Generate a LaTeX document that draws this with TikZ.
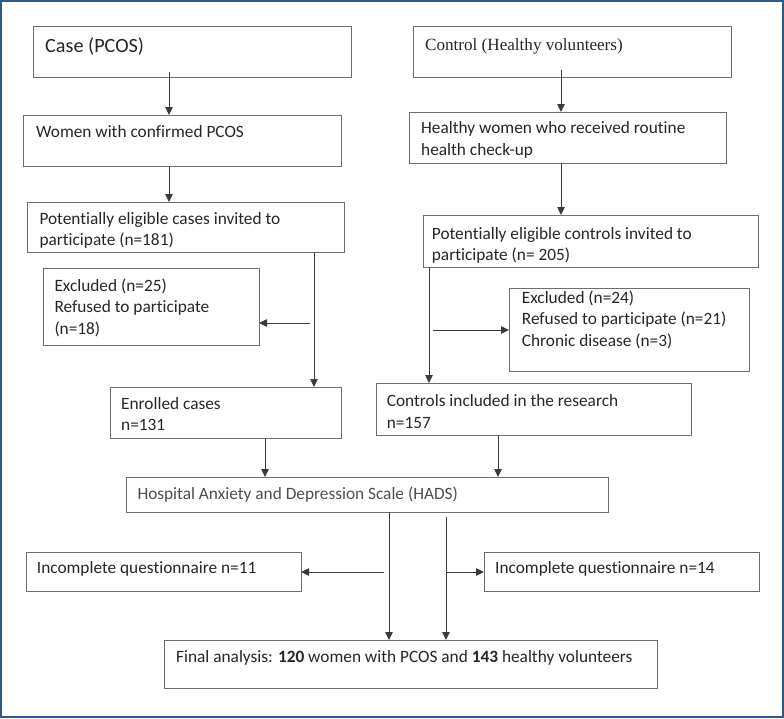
\documentclass[tikz,border=0pt]{standalone}
\usepackage{fontspec}
\setmainfont{Carlito}[Ligatures=NoCommon]
\newfontfamily\timesf{Liberation Serif}
\usetikzlibrary{arrows.meta}
\definecolor{framec}{HTML}{2D5A88}
\definecolor{boxc}{HTML}{6E6E6E}
\definecolor{txtc}{HTML}{262626}
\definecolor{hadsc}{HTML}{4D4D4D}
\definecolor{arrc}{HTML}{3A3A3A}
\tikzset{
  box/.style={draw=boxc, line width=0.9pt, anchor=north west, inner sep=0pt, outer sep=0pt},
  txt/.style={anchor=base west, inner sep=0pt, text=txtc, font=\fontsize{17.3}{21.5}\selectfont},
  arr/.style={draw=arrc, line width=0.8pt, -{Triangle[length=8pt,width=7.5pt]}},
}
\newcommand{\bx}[5]{\node[box, minimum width=#4-#2, minimum height=#5-#3] (#1) at (#2,#3) {};}
\begin{document}
\begin{tikzpicture}[x=1pt,y=-1pt]
\useasboundingbox (0,0) rectangle (784,718);
\draw[framec, line width=2.2pt] (1.1,1.1) rectangle (782.9,716.9);
% boxes
\bx{case}{33}{26}{351}{77}
\bx{women}{23}{115}{341}{166}
\bx{pecase}{27}{202}{344}{252}
\bx{exca}{43}{268}{259}{345}
\bx{enr}{110}{387}{341}{438}
\bx{ctrl}{413}{26}{731}{77}
\bx{hw}{409}{112}{726}{163}
\bx{pectrl}{423}{215}{758}{267}
\bx{exco}{509}{288}{749}{371}
\bx{cinc}{376}{383}{691}{435}
\bx{hads}{126}{477}{608}{512}
\bx{inca}{26}{552}{301}{591}
\bx{inco}{484}{552}{759}{591}
\bx{final}{164}{640}{657}{688}
% texts
\node[txt, font=\fontsize{20.2}{24}\selectfont] (tcase) at (45,52) {Case (PCOS)};
\node[txt] (twomen) at (36,137.5) {Women with confirmed PCOS};
\node[txt, font=\timesf\fontsize{17.1}{21}\selectfont] (tctrl) at (425,50.5) {Control (Healthy volunteers)};
\node[txt, align=left, anchor=north west] (thw) at (421,121.5) {Healthy women who received routine\\health check-up};
\node[txt, align=left, anchor=north west] (tpecase) at (39.3,212) {Potentially eligible cases invited to\\participate (n=181)};
\node[txt, align=left, anchor=north west] (texca) at (54.3,278.5) {Excluded (n=25)\\Refused to participate\\(n=18)};
\node[txt, align=left, anchor=north west] (tenr) at (121,397) {Enrolled cases\\n=131};
\node[txt, align=left, anchor=north west] (tpectrl) at (431.7,227) {Potentially eligible controls invited to\\participate (n= 205)};
\node[txt, align=left, anchor=north west] (texco) at (521.7,290.5) {Excluded (n=24)\\Refused to participate (n=21)\\Chronic disease (n=3)};
\node[txt, align=left, anchor=north west] (tcinc) at (386.7,394.5) {Controls included in the research\\n=157};
\node[txt, text=hadsc] (thads) at (137.3,499) {Hospital Anxiety and Depression Scale (HADS)};
\node[txt] (tinca) at (36.7,573.5) {Incomplete questionnaire n=11};
\node[txt] (tinco) at (495,573.5) {Incomplete questionnaire n=14};
\node[txt] (tfinal) at (176,662) {Final analysis: \textbf{120} women with PCOS and \textbf{143} healthy volunteers};
% column coordinates
\coordinate (c1) at (169,0);
\coordinate (c2) at (561,0);
\coordinate (c3) at (314,0);
\coordinate (c4) at (429,0);
\coordinate (c5) at (265,0);
\coordinate (c6) at (498,0);
\coordinate (c7) at (389,0);
\coordinate (c8) at (446,0);
\coordinate (s1) at (169,72);
\coordinate (s2) at (561,70);
\coordinate (h1) at (310,323);
\coordinate (h2) at (433,330);
\coordinate (h3) at (384,572);
\coordinate (h4) at (446,572);
\coordinate (v8) at (446,517);
% arrows
\draw[arr] (s1) -- (women.north -| c1);
\draw[arr] (women.south -| c1) -- (pecase.north -| c1);
\draw[arr] (pecase.south -| c3) -- (enr.north -| c3);
\draw[arr] (h1) -- (exca.east |- h1);
\draw[arr] (enr.south -| c5) -- (hads.north -| c5);
\draw[arr] (s2) -- (hw.north -| c2);
\draw[arr] (hw.south -| c2) -- (pectrl.north -| c2);
\draw[arr] (pectrl.south -| c4) -- (cinc.north -| c4);
\draw[arr] (h2) -- (exco.west |- h2);
\draw[arr] (cinc.south -| c6) -- (hads.north -| c6);
\draw[arr] (hads.south -| c7) -- (final.north -| c7);
\draw[arr] (v8) -- (final.north -| c8);
\draw[arr] (h3) -- (inca.east |- h3);
\draw[arr] (h4) -- (inco.west |- h4);
\end{tikzpicture}
\end{document}
